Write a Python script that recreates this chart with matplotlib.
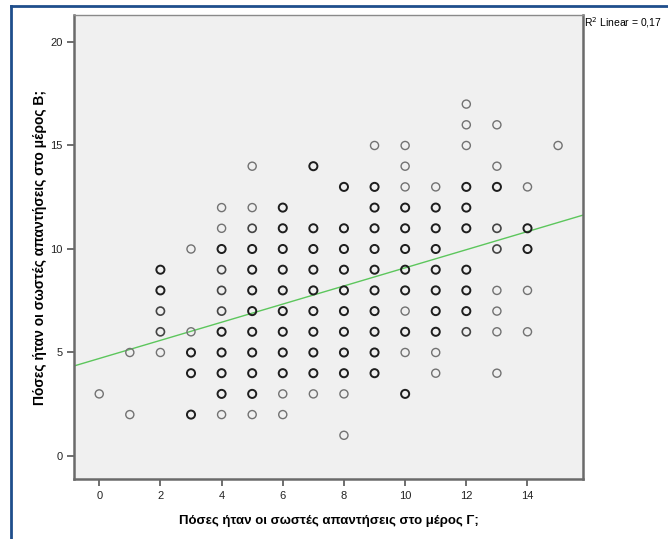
import numpy as np
import matplotlib.pyplot as plt

plt.rcParams['font.family'] = ['Liberation Sans', 'DejaVu Sans']

# σωστές απαντήσεις στο μέρος Γ (x) και στο μέρος Β (y), μία στήλη ανά γραμμή
x_vals = ([0] + [1]*2 + [2]*5 + [3]*5 + [4]*11 + [5]*12 + [6]*11 + [7]*10
          + [8]*11 + [9]*11 + [10]*12 + [11]*10 + [12]*10 + [13]*9 + [14]*5 + [15])
y_vals = [3,
          5, 2,
          9, 8, 7, 6, 5,
          10, 6, 5, 4, 2,
          12, 11, 10, 9, 8, 7, 6, 5, 4, 3, 2,
          14, 12, 11, 10, 9, 8, 7, 6, 5, 4, 3, 2,
          12, 11, 10, 9, 8, 7, 6, 5, 4, 3, 2,
          14, 11, 10, 9, 8, 7, 6, 5, 4, 3,
          13, 11, 10, 9, 8, 7, 6, 5, 4, 3, 1,
          15, 13, 12, 11, 10, 9, 8, 7, 6, 5, 4,
          15, 14, 13, 12, 11, 10, 9, 8, 7, 6, 5, 3,
          13, 12, 11, 10, 9, 8, 7, 6, 5, 4,
          17, 16, 15, 13, 12, 11, 9, 8, 7, 6,
          16, 14, 13, 11, 10, 8, 7, 6, 4,
          13, 11, 10, 8, 6,
          15]

# σημεία με μία μόνο παρατήρηση (ανοιχτόχρωμα) και λίγες (μεσαία)
single_pts = [(5, 14), (4, 12), (5, 12), (4, 11), (3, 10), (9, 15), (10, 15), (10, 14),
              (12, 17), (12, 16), (12, 15), (13, 16), (13, 14), (15, 15), (10, 13),
              (11, 13), (14, 13), (2, 5), (1, 5), (3, 6), (1, 2), (0, 3), (6, 3), (7, 3),
              (8, 3), (4, 2), (5, 2), (6, 2), (8, 1), (13, 8), (14, 8), (10, 7), (13, 7),
              (13, 6), (14, 6), (10, 5), (11, 5), (11, 4), (13, 4)]
few_pts = [(5, 11), (13, 11), (13, 10), (2, 7), (2, 6), (4, 9), (4, 8), (4, 7), (12, 6)]

# γραμμή παλινδρόμησης
fit_intercept = 4.71
fit_slope = 0.438
r2_text = 'R$^2$ Linear = 0,17'

fig = plt.figure(figsize=(6.68, 5.39), dpi=100)
ax = fig.add_axes([0.111, 0.111, 0.762, 0.861])
ax.set_facecolor('#f0f0f0')

colors = []
widths = []
for px, py in zip(x_vals, y_vals):
    if (px, py) in single_pts:
        colors.append('#727272')
        widths.append(1.0)
    elif (px, py) in few_pts:
        colors.append('#444444')
        widths.append(1.2)
    else:
        colors.append('#1e1e1e')
        widths.append(1.4)

ax.scatter(x_vals, y_vals, s=34, facecolors='none', edgecolors=colors,
           linewidths=widths, zorder=3)

ax.axline((0, fit_intercept), slope=fit_slope, color='#5cc65c', lw=1.0, zorder=2)

ax.set_xlim(-0.82, 15.82)
ax.set_ylim(-1.12, 21.3)
ax.set_xticks(np.arange(0, 15, 2))
ax.set_yticks([0, 5, 10, 15, 20])
ax.tick_params(direction='out', length=5, width=1.2, color='#555555',
               labelsize=8, labelcolor='#222222')

for side in ['left', 'bottom', 'right']:
    ax.spines[side].set_color('#6a6a6a')
    ax.spines[side].set_linewidth(1.8)
ax.spines['top'].set_color('#8a8a8a')
ax.spines['top'].set_linewidth(1.0)

ax.set_xlabel('Πόσες ήταν οι σωστές απαντήσεις στο μέρος Γ;', fontsize=9.5,
              fontweight='bold', labelpad=10)
ax.set_ylabel('Πόσες ήταν οι σωστές απαντήσεις στο μέρος Β;', fontsize=10,
              fontweight='bold', labelpad=2)

fig.text(0.874, 0.945, r2_text, fontsize=7.5, ha='left', va='bottom')

# μπλε πλαίσιο του παραθύρου
fig.add_artist(plt.Line2D([11 / 668, 11 / 668], [0, 1 - 6 / 539],
                          transform=fig.transFigure, color='#1f4e8c', lw=2))
fig.add_artist(plt.Line2D([11 / 668, 1], [1 - 6 / 539, 1 - 6 / 539],
                          transform=fig.transFigure, color='#1f4e8c', lw=2))

fig.savefig('out.png', dpi=100)
